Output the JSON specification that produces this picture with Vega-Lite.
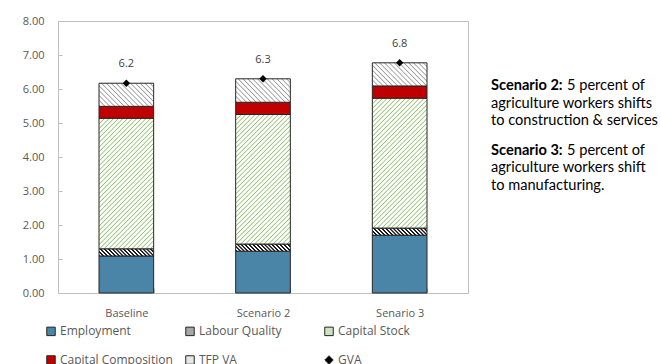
{
  "$schema": "https://vega.github.io/schema/vega-lite/v6.json",
  "background": "white",
  "padding": {"left": 4, "top": 14, "right": 0, "bottom": 0},
  "spacing": 22,
  "config": {
    "font": "Open Sans",
    "view": {"stroke": "#bfbfbf", "strokeWidth": 1},
    "axis": {
      "labelFont": "Open Sans",
      "labelFontSize": 11,
      "labelColor": "#595959",
      "labelOverlap": false,
      "domain": false,
      "grid": false,
      "title": null
    }
  },
  "hconcat": [
    {
      "width": 410,
      "height": 272,
      "encoding": {
        "x": {
          "field": "scenario",
          "type": "nominal",
          "sort": null,
          "scale": {"paddingInner": 0.6, "paddingOuter": 0.3},
          "axis": {
            "labelAngle": 0,
            "labelOverlap": false,
            "tickBand": "extent",
            "ticks": true,
            "tickSize": -5,
            "tickColor": "#bfbfbf",
            "labelPadding": 19
          }
        }
      },
      "layer": [
        {
          "data": {
            "values": [
              {"scenario": "Baseline", "component": "Employment", "value": 1.09},
              {"scenario": "Baseline", "component": "Labour Quality", "value": 0.21},
              {"scenario": "Baseline", "component": "Capital Stock", "value": 3.84},
              {"scenario": "Baseline", "component": "Capital Composition", "value": 0.35},
              {"scenario": "Baseline", "component": "TFP VA", "value": 0.68},
              {"scenario": "Scenario 2", "component": "Employment", "value": 1.23},
              {"scenario": "Scenario 2", "component": "Labour Quality", "value": 0.21},
              {"scenario": "Scenario 2", "component": "Capital Stock", "value": 3.81},
              {"scenario": "Scenario 2", "component": "Capital Composition", "value": 0.36},
              {"scenario": "Scenario 2", "component": "TFP VA", "value": 0.69},
              {"scenario": "Senario 3", "component": "Employment", "value": 1.70},
              {"scenario": "Senario 3", "component": "Labour Quality", "value": 0.21},
              {"scenario": "Senario 3", "component": "Capital Stock", "value": 3.82},
              {"scenario": "Senario 3", "component": "Capital Composition", "value": 0.36},
              {"scenario": "Senario 3", "component": "TFP VA", "value": 0.68}
            ]
          },
          "transform": [
            {"calculate": "indexof(['Employment', 'Labour Quality', 'Capital Stock', 'Capital Composition', 'TFP VA'], datum.component)", "as": "stack_rank"}
          ],
          "mark": {"type": "bar", "stroke": "#262626", "strokeWidth": 1},
          "encoding": {
            "y": {
              "field": "value",
              "type": "quantitative",
              "stack": "zero",
              "scale": {"domain": [0, 8], "nice": false},
              "axis": {
                "values": [0, 1, 2, 3, 4, 5, 6, 7, 8],
                "format": ".2f",
                "labelOverlap": false,
                "ticks": true,
                "tickSize": -4,
                "tickColor": "#bfbfbf",
                "labelPadding": 18,
                "minExtent": 53,
                "maxExtent": 53
              }
            },
            "order": {"field": "stack_rank", "type": "quantitative"},
            "fill": {
              "field": "component",
              "type": "nominal",
              "scale": {
                "domain": ["Employment", "Labour Quality", "Capital Stock", "Capital Composition", "TFP VA", "GVA"],
                "range": ["#4a85a8", "#a6a6a6", "#cfe3bf", "#c00000", "#e6e6e6", "#000000"]
              },
              "legend": {
                "title": null,
                "orient": "none",
                "legendX": -13,
                "legendY": 304,
                "direction": "horizontal",
                "columns": 3,
                "gridAlign": "all",
                "columnPadding": 10,
                "rowPadding": 15,
                "padding": 0,
                "symbolType": {"expr": "datum.value === 'GVA' ? 'diamond' : 'square'"},
                "symbolSize": 72,
                "symbolStrokeWidth": 1,
                "labelFont": "Open Sans",
                "labelFontSize": 12,
                "labelColor": "#595959",
                "labelOffset": 3,
                "encode": {
                  "symbols": {
                    "update": {
                      "shape": {"signal": "datum.value === 'GVA' ? 'diamond' : 'square'"},
                      "stroke": {"signal": "datum.value === 'GVA' ? 'transparent' : '#262626'"}
                    }
                  }
                }
              },
              "condition": [
                {
                  "test": "datum.component === 'Capital Stock'",
                  "value": {
                    "gradient": "linear", "x1": 0, "y1": 0, "x2": 0.508, "y2": 1.208,
                    "stops": [
                      {"offset": 0, "color": "#ffffff"}, {"offset": 0.006, "color": "#8dc06a"}, {"offset": 0.012, "color": "#ffffff"},
                      {"offset": 0.025, "color": "#ffffff"}, {"offset": 0.031, "color": "#8dc06a"}, {"offset": 0.037, "color": "#ffffff"},
                      {"offset": 0.05, "color": "#ffffff"}, {"offset": 0.056, "color": "#8dc06a"}, {"offset": 0.062, "color": "#ffffff"},
                      {"offset": 0.075, "color": "#ffffff"}, {"offset": 0.081, "color": "#8dc06a"}, {"offset": 0.087, "color": "#ffffff"},
                      {"offset": 0.1, "color": "#ffffff"}, {"offset": 0.106, "color": "#8dc06a"}, {"offset": 0.112, "color": "#ffffff"},
                      {"offset": 0.125, "color": "#ffffff"}, {"offset": 0.131, "color": "#8dc06a"}, {"offset": 0.137, "color": "#ffffff"},
                      {"offset": 0.15, "color": "#ffffff"}, {"offset": 0.156, "color": "#8dc06a"}, {"offset": 0.162, "color": "#ffffff"},
                      {"offset": 0.175, "color": "#ffffff"}, {"offset": 0.181, "color": "#8dc06a"}, {"offset": 0.187, "color": "#ffffff"},
                      {"offset": 0.2, "color": "#ffffff"}, {"offset": 0.206, "color": "#8dc06a"}, {"offset": 0.212, "color": "#ffffff"},
                      {"offset": 0.225, "color": "#ffffff"}, {"offset": 0.231, "color": "#8dc06a"}, {"offset": 0.237, "color": "#ffffff"},
                      {"offset": 0.25, "color": "#ffffff"}, {"offset": 0.256, "color": "#8dc06a"}, {"offset": 0.262, "color": "#ffffff"},
                      {"offset": 0.275, "color": "#ffffff"}, {"offset": 0.281, "color": "#8dc06a"}, {"offset": 0.287, "color": "#ffffff"},
                      {"offset": 0.3, "color": "#ffffff"}, {"offset": 0.306, "color": "#8dc06a"}, {"offset": 0.312, "color": "#ffffff"},
                      {"offset": 0.325, "color": "#ffffff"}, {"offset": 0.331, "color": "#8dc06a"}, {"offset": 0.337, "color": "#ffffff"},
                      {"offset": 0.35, "color": "#ffffff"}, {"offset": 0.356, "color": "#8dc06a"}, {"offset": 0.362, "color": "#ffffff"},
                      {"offset": 0.375, "color": "#ffffff"}, {"offset": 0.381, "color": "#8dc06a"}, {"offset": 0.387, "color": "#ffffff"},
                      {"offset": 0.4, "color": "#ffffff"}, {"offset": 0.406, "color": "#8dc06a"}, {"offset": 0.412, "color": "#ffffff"},
                      {"offset": 0.425, "color": "#ffffff"}, {"offset": 0.431, "color": "#8dc06a"}, {"offset": 0.437, "color": "#ffffff"},
                      {"offset": 0.45, "color": "#ffffff"}, {"offset": 0.456, "color": "#8dc06a"}, {"offset": 0.462, "color": "#ffffff"},
                      {"offset": 0.475, "color": "#ffffff"}, {"offset": 0.481, "color": "#8dc06a"}, {"offset": 0.487, "color": "#ffffff"},
                      {"offset": 0.5, "color": "#ffffff"}, {"offset": 0.506, "color": "#8dc06a"}, {"offset": 0.512, "color": "#ffffff"},
                      {"offset": 0.525, "color": "#ffffff"}, {"offset": 0.531, "color": "#8dc06a"}, {"offset": 0.537, "color": "#ffffff"},
                      {"offset": 0.55, "color": "#ffffff"}, {"offset": 0.556, "color": "#8dc06a"}, {"offset": 0.562, "color": "#ffffff"},
                      {"offset": 0.575, "color": "#ffffff"}, {"offset": 0.581, "color": "#8dc06a"}, {"offset": 0.587, "color": "#ffffff"},
                      {"offset": 0.6, "color": "#ffffff"}, {"offset": 0.606, "color": "#8dc06a"}, {"offset": 0.612, "color": "#ffffff"},
                      {"offset": 0.625, "color": "#ffffff"}, {"offset": 0.631, "color": "#8dc06a"}, {"offset": 0.637, "color": "#ffffff"},
                      {"offset": 0.65, "color": "#ffffff"}, {"offset": 0.656, "color": "#8dc06a"}, {"offset": 0.662, "color": "#ffffff"},
                      {"offset": 0.675, "color": "#ffffff"}, {"offset": 0.681, "color": "#8dc06a"}, {"offset": 0.687, "color": "#ffffff"},
                      {"offset": 0.7, "color": "#ffffff"}, {"offset": 0.706, "color": "#8dc06a"}, {"offset": 0.712, "color": "#ffffff"},
                      {"offset": 0.725, "color": "#ffffff"}, {"offset": 0.731, "color": "#8dc06a"}, {"offset": 0.737, "color": "#ffffff"},
                      {"offset": 0.75, "color": "#ffffff"}, {"offset": 0.756, "color": "#8dc06a"}, {"offset": 0.762, "color": "#ffffff"},
                      {"offset": 0.775, "color": "#ffffff"}, {"offset": 0.781, "color": "#8dc06a"}, {"offset": 0.787, "color": "#ffffff"},
                      {"offset": 0.8, "color": "#ffffff"}, {"offset": 0.806, "color": "#8dc06a"}, {"offset": 0.812, "color": "#ffffff"},
                      {"offset": 0.825, "color": "#ffffff"}, {"offset": 0.831, "color": "#8dc06a"}, {"offset": 0.837, "color": "#ffffff"},
                      {"offset": 0.85, "color": "#ffffff"}, {"offset": 0.856, "color": "#8dc06a"}, {"offset": 0.862, "color": "#ffffff"},
                      {"offset": 0.875, "color": "#ffffff"}, {"offset": 0.881, "color": "#8dc06a"}, {"offset": 0.887, "color": "#ffffff"},
                      {"offset": 0.9, "color": "#ffffff"}, {"offset": 0.906, "color": "#8dc06a"}, {"offset": 0.912, "color": "#ffffff"},
                      {"offset": 0.925, "color": "#ffffff"}, {"offset": 0.931, "color": "#8dc06a"}, {"offset": 0.937, "color": "#ffffff"},
                      {"offset": 0.95, "color": "#ffffff"}, {"offset": 0.956, "color": "#8dc06a"}, {"offset": 0.962, "color": "#ffffff"},
                      {"offset": 0.975, "color": "#ffffff"}, {"offset": 0.981, "color": "#8dc06a"}, {"offset": 0.987, "color": "#ffffff"},
                      {"offset": 1, "color": "#ffffff"}
                    ]
                  }
                },
                {
                  "test": "datum.component === 'TFP VA'",
                  "value": {
                    "gradient": "linear", "x1": 0, "y1": 1, "x2": 1.206, "y2": 0.4926,
                    "stops": [
                      {"offset": 0, "color": "#ffffff"}, {"offset": 0.015, "color": "#9a9a9a"}, {"offset": 0.03, "color": "#ffffff"},
                      {"offset": 0.0625, "color": "#ffffff"}, {"offset": 0.0775, "color": "#9a9a9a"}, {"offset": 0.0925, "color": "#ffffff"},
                      {"offset": 0.125, "color": "#ffffff"}, {"offset": 0.14, "color": "#9a9a9a"}, {"offset": 0.155, "color": "#ffffff"},
                      {"offset": 0.1875, "color": "#ffffff"}, {"offset": 0.2025, "color": "#9a9a9a"}, {"offset": 0.2175, "color": "#ffffff"},
                      {"offset": 0.25, "color": "#ffffff"}, {"offset": 0.265, "color": "#9a9a9a"}, {"offset": 0.28, "color": "#ffffff"},
                      {"offset": 0.3125, "color": "#ffffff"}, {"offset": 0.3275, "color": "#9a9a9a"}, {"offset": 0.3425, "color": "#ffffff"},
                      {"offset": 0.375, "color": "#ffffff"}, {"offset": 0.39, "color": "#9a9a9a"}, {"offset": 0.405, "color": "#ffffff"},
                      {"offset": 0.4375, "color": "#ffffff"}, {"offset": 0.4525, "color": "#9a9a9a"}, {"offset": 0.4675, "color": "#ffffff"},
                      {"offset": 0.5, "color": "#ffffff"}, {"offset": 0.515, "color": "#9a9a9a"}, {"offset": 0.53, "color": "#ffffff"},
                      {"offset": 0.5625, "color": "#ffffff"}, {"offset": 0.5775, "color": "#9a9a9a"}, {"offset": 0.5925, "color": "#ffffff"},
                      {"offset": 0.625, "color": "#ffffff"}, {"offset": 0.64, "color": "#9a9a9a"}, {"offset": 0.655, "color": "#ffffff"},
                      {"offset": 0.6875, "color": "#ffffff"}, {"offset": 0.7025, "color": "#9a9a9a"}, {"offset": 0.7175, "color": "#ffffff"},
                      {"offset": 0.75, "color": "#ffffff"}, {"offset": 0.765, "color": "#9a9a9a"}, {"offset": 0.78, "color": "#ffffff"},
                      {"offset": 0.8125, "color": "#ffffff"}, {"offset": 0.8275, "color": "#9a9a9a"}, {"offset": 0.8425, "color": "#ffffff"},
                      {"offset": 0.875, "color": "#ffffff"}, {"offset": 0.89, "color": "#9a9a9a"}, {"offset": 0.905, "color": "#ffffff"},
                      {"offset": 0.9375, "color": "#ffffff"}, {"offset": 0.9525, "color": "#9a9a9a"}, {"offset": 0.9675, "color": "#ffffff"},
                      {"offset": 1, "color": "#ffffff"}
                    ]
                  }
                },
                {
                  "test": "datum.component === 'Labour Quality'",
                  "value": {
                    "gradient": "linear", "x1": 0, "y1": 1, "x2": 1.1116, "y2": 0.8556,
                    "stops": [
                      {"offset": 0, "color": "#1a1a1a"}, {"offset": 0.025, "color": "#1a1a1a"}, {"offset": 0.032, "color": "#ffffff"}, {"offset": 0.056, "color": "#ffffff"},
                      {"offset": 0.0625, "color": "#1a1a1a"}, {"offset": 0.0875, "color": "#1a1a1a"}, {"offset": 0.0945, "color": "#ffffff"}, {"offset": 0.1185, "color": "#ffffff"},
                      {"offset": 0.125, "color": "#1a1a1a"}, {"offset": 0.15, "color": "#1a1a1a"}, {"offset": 0.157, "color": "#ffffff"}, {"offset": 0.181, "color": "#ffffff"},
                      {"offset": 0.1875, "color": "#1a1a1a"}, {"offset": 0.2125, "color": "#1a1a1a"}, {"offset": 0.2195, "color": "#ffffff"}, {"offset": 0.2435, "color": "#ffffff"},
                      {"offset": 0.25, "color": "#1a1a1a"}, {"offset": 0.275, "color": "#1a1a1a"}, {"offset": 0.282, "color": "#ffffff"}, {"offset": 0.306, "color": "#ffffff"},
                      {"offset": 0.3125, "color": "#1a1a1a"}, {"offset": 0.3375, "color": "#1a1a1a"}, {"offset": 0.3445, "color": "#ffffff"}, {"offset": 0.3685, "color": "#ffffff"},
                      {"offset": 0.375, "color": "#1a1a1a"}, {"offset": 0.4, "color": "#1a1a1a"}, {"offset": 0.407, "color": "#ffffff"}, {"offset": 0.431, "color": "#ffffff"},
                      {"offset": 0.4375, "color": "#1a1a1a"}, {"offset": 0.4625, "color": "#1a1a1a"}, {"offset": 0.4695, "color": "#ffffff"}, {"offset": 0.4935, "color": "#ffffff"},
                      {"offset": 0.5, "color": "#1a1a1a"}, {"offset": 0.525, "color": "#1a1a1a"}, {"offset": 0.532, "color": "#ffffff"}, {"offset": 0.556, "color": "#ffffff"},
                      {"offset": 0.5625, "color": "#1a1a1a"}, {"offset": 0.5875, "color": "#1a1a1a"}, {"offset": 0.5945, "color": "#ffffff"}, {"offset": 0.6185, "color": "#ffffff"},
                      {"offset": 0.625, "color": "#1a1a1a"}, {"offset": 0.65, "color": "#1a1a1a"}, {"offset": 0.657, "color": "#ffffff"}, {"offset": 0.681, "color": "#ffffff"},
                      {"offset": 0.6875, "color": "#1a1a1a"}, {"offset": 0.7125, "color": "#1a1a1a"}, {"offset": 0.7195, "color": "#ffffff"}, {"offset": 0.7435, "color": "#ffffff"},
                      {"offset": 0.75, "color": "#1a1a1a"}, {"offset": 0.775, "color": "#1a1a1a"}, {"offset": 0.782, "color": "#ffffff"}, {"offset": 0.806, "color": "#ffffff"},
                      {"offset": 0.8125, "color": "#1a1a1a"}, {"offset": 0.8375, "color": "#1a1a1a"}, {"offset": 0.8445, "color": "#ffffff"}, {"offset": 0.8685, "color": "#ffffff"},
                      {"offset": 0.875, "color": "#1a1a1a"}, {"offset": 0.9, "color": "#1a1a1a"}, {"offset": 0.907, "color": "#ffffff"}, {"offset": 0.931, "color": "#ffffff"},
                      {"offset": 0.9375, "color": "#1a1a1a"}, {"offset": 0.9625, "color": "#1a1a1a"}, {"offset": 0.9695, "color": "#ffffff"}, {"offset": 1, "color": "#ffffff"}
                    ]
                  }
                }
              ]
            }
          }
        },
        {
          "data": {
            "values": [
              {"scenario": "Baseline", "gva": 6.17},
              {"scenario": "Scenario 2", "gva": 6.30},
              {"scenario": "Senario 3", "gva": 6.77}
            ]
          },
          "encoding": {
            "y": {
              "field": "gva",
              "type": "quantitative",
              "axis": {
                "values": [0, 1, 2, 3, 4, 5, 6, 7, 8],
                "format": ".2f",
                "labelOverlap": false,
                "ticks": true,
                "tickSize": -4,
                "tickColor": "#bfbfbf",
                "labelPadding": 18,
                "minExtent": 53,
                "maxExtent": 53
              }
            }
          },
          "layer": [
            {"mark": {"type": "point", "shape": "diamond", "filled": true, "size": 55, "color": "#000000", "opacity": 1}},
            {
              "mark": {"type": "text", "dy": -19, "fontSize": 11, "font": "Open Sans", "color": "#404040"},
              "encoding": {"text": {"field": "gva", "type": "quantitative", "format": ".1f"}}
            }
          ]
        }
      ]
    },
    {
      "width": 170,
      "height": 193,
      "view": {"stroke": null},
      "data": {
        "values": [
          {"scenario": "Scenario 2:", "lead": "5 percent of", "rest": "agriculture workers shifts\nto construction & services"},
          {"scenario": "Scenario 3:", "lead": "5 percent of", "rest": "agriculture workers shift\nto manufacturing."}
        ]
      },
      "encoding": {
        "y": {"field": "scenario", "type": "ordinal", "sort": null, "scale": {"type": "point", "padding": 1}, "axis": null},
        "x": {"value": 0}
      },
      "layer": [
        {
          "mark": {"type": "text", "align": "left", "baseline": "alphabetic", "font": "Lato", "fontSize": 14.6, "fontWeight": "bold", "dy": 5, "color": "#000000"},
          "encoding": {"text": {"field": "scenario"}}
        },
        {
          "mark": {"type": "text", "align": "left", "baseline": "alphabetic", "font": "Lato", "fontSize": 14.6, "dx": 76, "dy": 5, "color": "#000000"},
          "encoding": {"text": {"field": "lead"}}
        },
        {
          "mark": {"type": "text", "align": "left", "baseline": "alphabetic", "font": "Lato", "fontSize": 14.6, "dy": 22.5, "lineHeight": 17.5, "lineBreak": "\n", "color": "#000000"},
          "encoding": {"text": {"field": "rest"}}
        }
      ]
    }
  ]
}
